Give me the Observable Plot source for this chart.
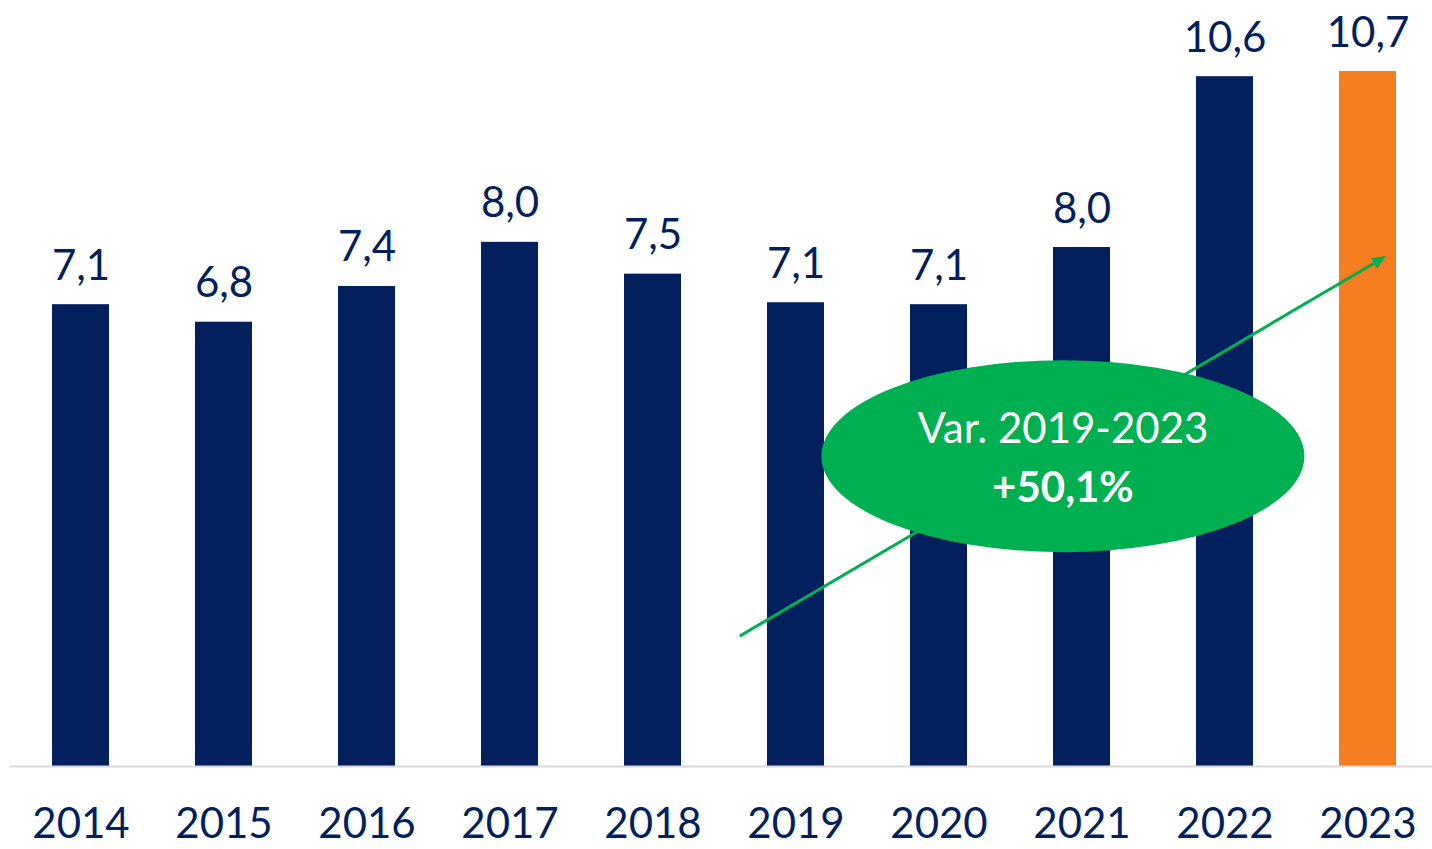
<!DOCTYPE html>
<html>
<head>
<meta charset="utf-8">
<script src="https://cdn.jsdelivr.net/npm/d3@7"></script>
<script src="https://cdn.jsdelivr.net/npm/@observablehq/plot@0.6"></script>
<style>
  html, body { margin: 0; padding: 0; background: #fff; }
  #chart svg { display: block; }
</style>
</head>
<body>
<div id="chart"></div>
<script>
const years = ["2014","2015","2016","2017","2018","2019","2020","2021","2022","2023"];
const values = [7.11, 6.84, 7.39, 8.07, 7.58, 7.14, 7.11, 7.99, 10.62, 10.7];
const labels = ["7,1","6,8","7,4","8,0","7,5","7,1","7,1","8,0","10,6","10,7"];
const highlightYear = "2023";
const annotationLines = ["Var. 2019-2023", "+50,1%"];
const arrowFrom = {year: "2019", shift: -0.39, value: 2.0};
const arrowTo = {year: "2023", shift: 0.13, value: 7.85};
const bubble = {year: "2021", shift: -0.13, value: 4.77};

const NAVY = "#021F5E", ORANGE = "#F47D20", GREEN = "#00AF50";
const FONT = "Lato, 'Open Sans', sans-serif";

const data = years.map((y, i) => ({year: y, value: values[i], label: labels[i]}));

function annotation(index, scales, vals, dims) {
  const x = scales.x, y = scales.y;
  const step = x.step ? x.step() : (x.bandwidth() / 0.4);
  const cx = d => x(d.year) + x.bandwidth() / 2 + d.shift * step;
  const g = d3.create("svg:g");
  const x1 = cx(arrowFrom), y1 = y(arrowFrom.value);
  const x2 = cx(arrowTo), y2 = y(arrowTo.value);
  const ang = Math.atan2(y2 - y1, x2 - x1);
  const hl = 14, hw = 6;
  const bx = x2 - hl * Math.cos(ang), by = y2 - hl * Math.sin(ang);
  g.append("line").attr("x1", x1).attr("y1", y1).attr("x2", bx).attr("y2", by)
    .attr("stroke", GREEN).attr("stroke-width", 3);
  g.append("path")
    .attr("d", `M${x2},${y2}L${bx - hw*Math.sin(ang)},${by + hw*Math.cos(ang)}L${bx + hw*Math.sin(ang)},${by - hw*Math.cos(ang)}Z`)
    .attr("fill", GREEN);
  const ex = cx(bubble), ey = y(bubble.value);
  g.append("ellipse").attr("cx", ex).attr("cy", ey).attr("rx", 241.5).attr("ry", 96).attr("fill", GREEN);
  g.append("text").attr("x", ex).attr("y", ey - 13).attr("text-anchor", "middle")
    .attr("fill", "#fff").attr("font-family", FONT).attr("font-size", 42).text(annotationLines[0]);
  g.append("text").attr("x", ex).attr("y", ey + 46).attr("text-anchor", "middle")
    .attr("fill", "#fff").attr("font-family", FONT).attr("font-weight", "bold").attr("font-size", 42).text(annotationLines[1]);
  return g.node();
}

const chart = Plot.plot({
  width: 1432,
  height: 849,
  marginLeft: 9.5,
  marginRight: -7.5,
  marginTop: 71,
  marginBottom: 83,
  style: {fontFamily: FONT, background: "#fff"},
  x: {domain: years, paddingInner: 0.6, paddingOuter: 0.3, label: null},
  y: {domain: [0, 10.7], axis: null},
  color: {type: "identity"},
  marks: [
    Plot.barY(data, {x: "year", y: "value", fill: d => d.year === highlightYear ? ORANGE : NAVY}),
    Plot.ruleY([0], {stroke: "#D9D9D9", strokeWidth: 2}),
    Plot.text(data, {x: "year", y: "value", text: "label", dy: -25, lineAnchor: "bottom",
      fill: NAVY, fontSize: 42}),
    Plot.axisX({tickSize: 0, tickPadding: 42, fontSize: 42, color: NAVY, label: null}),
    annotation
  ]
});
document.getElementById("chart").appendChild(chart);
</script>
</body>
</html>
